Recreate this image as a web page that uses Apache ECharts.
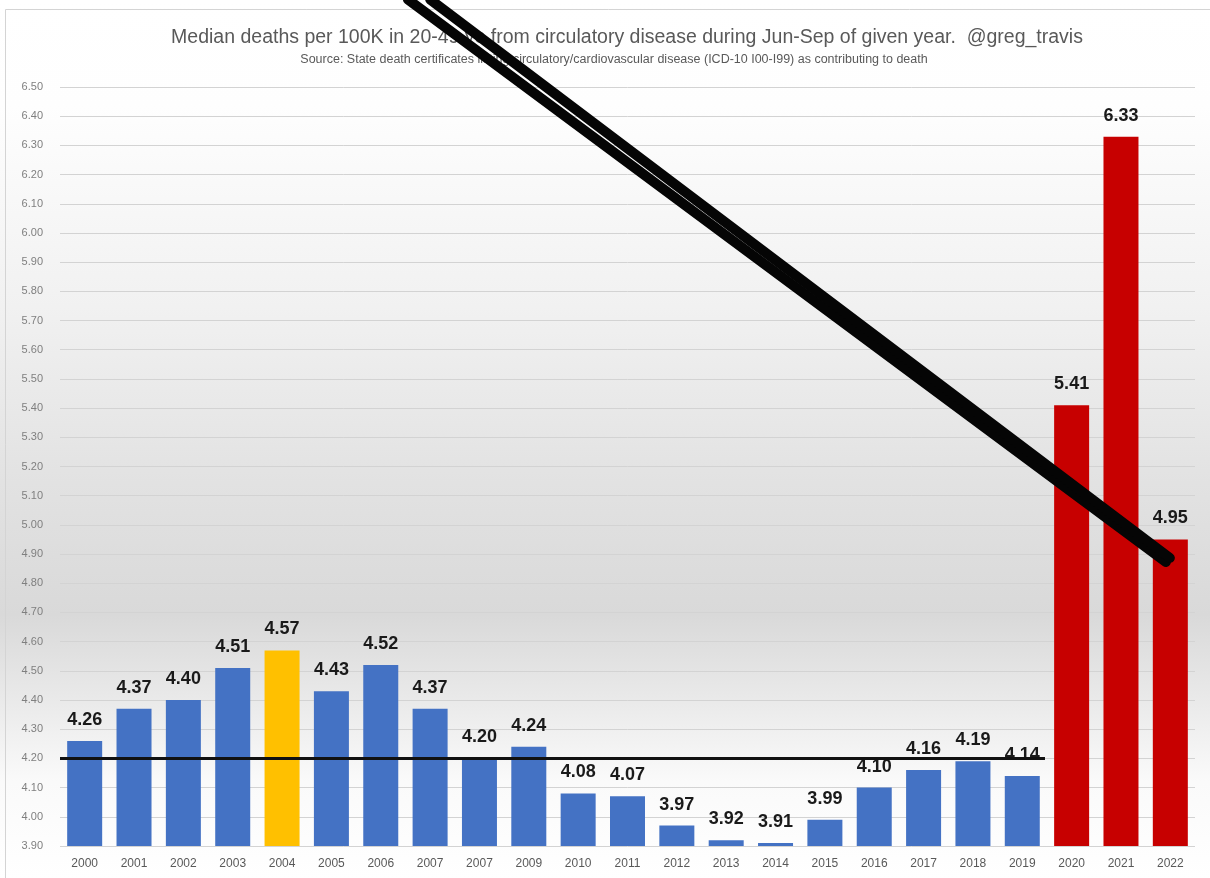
<!DOCTYPE html>
<html>
<head>
<meta charset="utf-8">
<title>Median deaths per 100K, circulatory disease, Jun-Sep</title>
<script src="https://cdn.jsdelivr.net/npm/echarts@6/dist/echarts.min.js"></script>
<style>
  html, body { margin: 0; padding: 0; background: #ffffff; }
  #chart { width: 1210px; height: 878px; }
</style>
</head>
<body>
<div id="chart"></div>
<script>
// Year labels as printed on the axis (the 2008 slot is labelled "2007")
const years = ['2000','2001','2002','2003','2004','2005','2006','2007','2007','2009',
               '2010','2011','2012','2013','2014','2015','2016','2017','2018','2019',
               '2020','2021','2022'];

// Median deaths per 100K, Jun-Sep of each year
const medianDeaths = [4.26, 4.37, 4.40, 4.51, 4.57, 4.43, 4.52, 4.37, 4.20, 4.24,
                      4.08, 4.07, 3.97, 3.92, 3.91, 3.99, 4.10, 4.16, 4.19, 4.14,
                      5.41, 6.33, 4.95];

// Bar colour group per year: base years, highlighted year, pandemic years
const barGroup = ['base','base','base','base','gold','base','base','base','base','base',
                  'base','base','base','base','base','base','base','base','base','base',
                  'red','red','red'];

// Value-axis ticks
const yMin = 3.9, yMax = 6.5, yStep = 0.1;

// Pre-2020 reference level and how far across the category span it runs
const baselineLevel = 4.20;
const baselineSpan = [0, 19.96];

// Hand-drawn double diagonal stroke, in [category position, value] pairs
const diagonalStrokeA = [[7.05, 6.80], [22.41, 4.873]];
const diagonalStrokeB = [[7.50, 6.80], [22.49, 4.887]];

const palette = { base: '#4472C4', gold: '#FFC000', red: '#C70000' };

const chart = echarts.init(document.getElementById('chart'), null, { renderer: 'canvas' });

const option = {
  animation: false,
  backgroundColor: {
    type: 'linear', x: 0, y: 0, x2: 0, y2: 1,
    colorStops: [
      { offset: 0.00, color: '#ffffff' },
      { offset: 0.12, color: '#fefefe' },
      { offset: 0.35, color: '#f1f1f1' },
      { offset: 0.55, color: '#e2e2e2' },
      { offset: 0.70, color: '#d9d9d9' },
      { offset: 0.80, color: '#eaeaea' },
      { offset: 0.89, color: '#fafafa' },
      { offset: 1.00, color: '#ffffff' }
    ]
  },
  graphic: [{
    type: 'rect', left: 3, top: 7, silent: true, z: -1,
    shape: { width: 1300, height: 1000 },
    style: { fill: null, stroke: '#d4d4d4', lineWidth: 1 }
  }],
  title: [{
    text: 'Median deaths per 100K in 20-49 yo from circulatory disease during Jun-Sep of given year.  @greg_travis',
    left: 622, top: 23, textAlign: 'center',
    textStyle: { fontFamily: 'Liberation Sans', fontSize: 19.5, fontWeight: 'normal', color: '#595959' }
  }, {
    text: 'Source: State death certificates listing circulatory/cardiovascular disease (ICD-10 I00-I99) as contributing to death',
    left: 609, top: 48, textAlign: 'center',
    textStyle: { fontFamily: 'Liberation Sans', fontSize: 12.5, fontWeight: 'normal', color: '#595959' }
  }],
  grid: { left: 60, right: 15, top: 87, bottom: 32, containLabel: false },
  xAxis: [{
    type: 'category',
    data: years,
    axisLine: { show: false },
    axisTick: { show: false },
    axisLabel: { color: '#595959', fontSize: 12, fontFamily: 'Liberation Sans', margin: 12, interval: 0 },
    splitLine: { show: false }
  }, {
    type: 'value',
    min: 0, max: years.length,
    show: false
  }],
  yAxis: {
    type: 'value',
    min: yMin, max: yMax, interval: yStep,
    axisLine: { show: false },
    axisTick: { show: false },
    axisLabel: {
      color: '#7f7f7f', fontSize: 11, fontFamily: 'Liberation Sans', margin: 17,
      formatter: v => v.toFixed(2)
    },
    splitLine: { lineStyle: { color: '#d3d3d3', width: 1 } }
  },
  series: [{
    type: 'bar',
    xAxisIndex: 0,
    barWidth: 35,
    data: medianDeaths.map((v, i) => ({ value: v, itemStyle: { color: palette[barGroup[i]] } })),
    label: {
      show: true, position: 'top', distance: 12,
      color: '#1a1a1a', fontSize: 18, fontWeight: 'bold', fontFamily: 'Liberation Sans',
      formatter: p => p.value.toFixed(2)
    },
    z: 2
  }, {
    type: 'line',
    xAxisIndex: 1,
    data: baselineSpan.map(x => [x, baselineLevel]),
    symbol: 'none',
    lineStyle: { color: '#111111', width: 3 },
    z: 5
  }, {
    type: 'line',
    xAxisIndex: 1,
    data: diagonalStrokeA,
    symbol: 'none',
    clip: false,
    lineStyle: { color: '#050505', width: 10, cap: 'round' },
    z: 6
  }, {
    type: 'line',
    xAxisIndex: 1,
    data: diagonalStrokeB,
    symbol: 'none',
    clip: false,
    lineStyle: { color: '#050505', width: 10, cap: 'round' },
    z: 6
  }]
};

chart.setOption(option);
</script>
</body>
</html>
